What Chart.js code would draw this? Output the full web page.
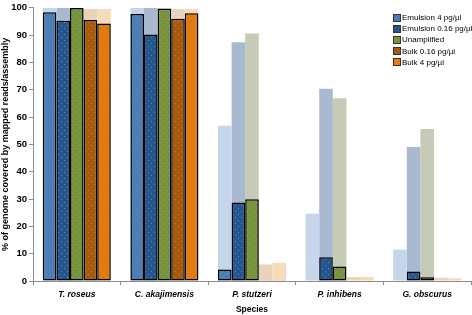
<!DOCTYPE html>
<html>
<head>
<meta charset="utf-8">
<script src="https://cdn.jsdelivr.net/npm/chart.js@4.4.0/dist/chart.umd.min.js"></script>
<style>
  html, body { margin: 0; padding: 0; background: #fff; }
  #wrap { position: relative; width: 472px; height: 315px; }
  #legend { position: absolute; left: 393px; top: 12px; font-family: "Liberation Sans", Arial, sans-serif; font-size: 8px; color: #000; }
  #legend div { height: 11.2px; line-height: 11px; white-space: nowrap; display: flex; align-items: center; }
  #legend span.box { display: inline-block; width: 6px; height: 6px; border: 1px solid #333; margin-right: 1px; }
</style>
</head>
<body>
<div id="wrap">
  <canvas id="c" width="472" height="315"></canvas>
  <div id="legend"></div>
</div>
<script>
const species = ["T. roseus", "C. akajimensis", "P. stutzeri", "P. inhibens", "G. obscurus"];
const seriesNames = ["Emulsion 4 pg/\u00b5l", "Emulsion 0.16 pg/\u00b5l", "Unamplified", "Bulk 0.16 pg/\u00b5l", "Bulk 4 pg/\u00b5l"];
// % genome covered by mapped reads (solid, outlined bars)
const emulsion4Reads   = [98.3, 97.7, 4.2, 0.2, 0.2];
const emulsion016Reads = [95.2, 90.2, 28.7, 8.7, 3.5];
const unamplifiedReads = [99.9, 99.6, 29.9, 5.3, 1.4];
const bulk016Reads     = [95.5, 96.0, 0.3, 0.2, 0.2];
const bulk4Reads       = [94.2, 98.0, 0.3, 0.2, 0.2];
// % genome covered by assembly (faded bars behind)
const emulsion4Asm   = [100, 100, 56.8, 24.6, 11.4];
const emulsion016Asm = [100, 100, 87.4, 70.3, 49.0];
const unamplifiedAsm = [100, 100, 90.6, 66.9, 55.6];
const bulk016Asm     = [99.5, 99.5, 6.0, 1.5, 1.2];
const bulk4Asm       = [99.5, 99.5, 6.7, 1.5, 1.0];
const yTicks = [0, 10, 20, 30, 40, 50, 60, 70, 80, 90, 100];

const solidColors = ["#4a7ebb", "#23568f", "#77933c", "#a65a0e", "#e57b0c"];
const fadedColors = ["#c6d5e9", "#a9bad0", "#c5cbb6", "#e9d3ba", "#f6dbb8"];
const dotColors = ["#8a8478", "#5e88b5", "#8e9c80", "#cf7a20", "#b8733a"];
const readsSeries = [emulsion4Reads, emulsion016Reads, unamplifiedReads, bulk016Reads, bulk4Reads];
const asmSeries = [emulsion4Asm, emulsion016Asm, unamplifiedAsm, bulk016Asm, bulk4Asm];

function dotted(base, dot) {
  const t = document.createElement("canvas");
  t.width = 6; t.height = 6;
  const g = t.getContext("2d");
  g.fillStyle = base; g.fillRect(0, 0, 6, 6);
  g.fillStyle = dot; g.fillRect(1, 1, 1, 1); g.fillRect(4, 4, 1, 1);
  return g.createPattern(t, "repeat");
}

const datasets = [];
readsSeries.forEach((d, i) => datasets.push({
  label: seriesNames[i], data: d, backgroundColor: dotted(solidColors[i], dotColors[i]),
  borderColor: "#000", borderWidth: 1.5, borderSkipped: false,
  stack: "s" + i, order: 0,
  categoryPercentage: 0.776, barPercentage: 1.0
}));
asmSeries.forEach((d, i) => datasets.push({
  label: seriesNames[i] + " (assembly)", data: d, backgroundColor: fadedColors[i],
  borderWidth: 0, stack: "s" + i, order: 1,
  categoryPercentage: 0.776, barPercentage: 1.0
}));

const font = "'Liberation Sans', Arial, sans-serif";
new Chart(document.getElementById("c"), {
  type: "bar",
  data: { labels: species, datasets },
  options: {
    responsive: false, animation: false, devicePixelRatio: 1,
    layout: { padding: { top: 3, right: 1, left: 0, bottom: 0 } },
    plugins: { legend: { display: false }, tooltip: { enabled: false } },
    scales: {
      x: {
        stacked: true,
        offset: true,
        grid: { drawOnChartArea: false, offset: true, tickLength: 4, color: "#8c8c8c" },
        border: { display: true, color: "#8c8c8c", width: 1 },
        ticks: { color: "#000", font: { family: font, size: 8.5, weight: "bold", style: "italic" }, padding: 5, maxRotation: 0 },
        title: { display: true, text: "Species", color: "#000", font: { family: font, size: 8.5, weight: "bold" }, padding: { top: 3, bottom: 0 } },
        afterFit: (s) => { s.height = 34; }
      },
      y: {
        stacked: false,
        min: 0, max: 100,
        afterBuildTicks: (s) => { s.ticks = yTicks.map(v => ({ value: v })); },
        grid: { drawOnChartArea: false, tickLength: 4, color: "#8c8c8c" },
        border: { display: true, color: "#8c8c8c", width: 1 },
        ticks: { color: "#000", font: { family: font, size: 9.5, weight: "bold" }, padding: 2 },
        title: { display: true, text: "% of genome covered by mapped reads/assembly", color: "#000", font: { family: font, size: 9, weight: "bold" }, padding: { top: 0, bottom: 0 } },
        afterFit: (s) => { s.width = 33; }
      }
    }
  }
});

const lg = document.getElementById("legend");
seriesNames.forEach((n, i) => {
  const row = document.createElement("div");
  const b = document.createElement("span");
  b.className = "box"; b.style.background = solidColors[i];
  row.appendChild(b);
  row.appendChild(document.createTextNode(n));
  lg.appendChild(row);
});
</script>
</body>
</html>
